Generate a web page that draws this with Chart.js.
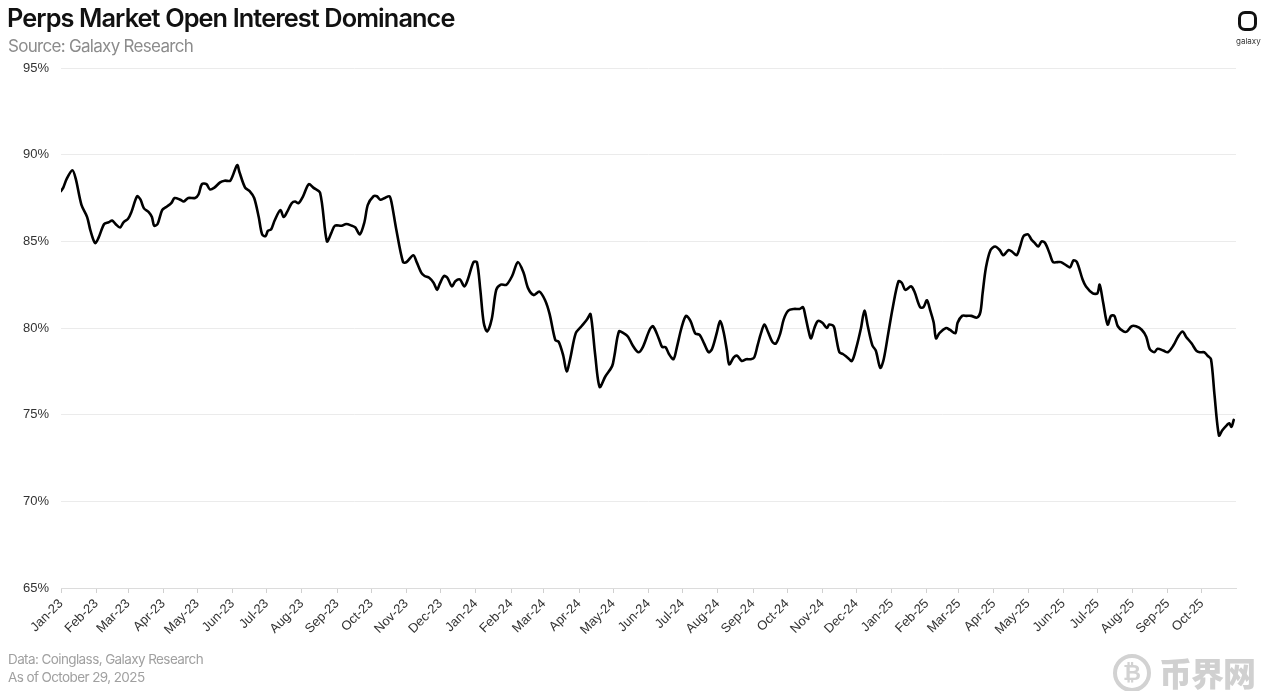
<!DOCTYPE html>
<html>
<head>
<meta charset="utf-8">
<script src="https://cdn.jsdelivr.net/npm/chart.js@4.4.1/dist/chart.umd.min.js"></script>
<style>
  html, body { margin: 0; padding: 0; background: #fff; }
  body { width: 1271px; height: 691px; position: relative; overflow: hidden; }
  #c { position: absolute; left: 0; top: 0; }
  .t { position: absolute; white-space: nowrap; font-family: Inter, "Noto Sans", sans-serif; }
  #title { left: 7px; top: 4px; font-size: 25.3px; line-height: 28px; font-weight: 600; color: #111; letter-spacing: -0.9px; }
  #sub { left: 8px; top: 35px; font-size: 17px; line-height: 22px; color: #8c8c8c; letter-spacing: -0.7px; }
  #f1 { left: 8px; top: 650px; font-size: 13.5px; line-height: 18px; color: #a0a0a0; letter-spacing: -0.6px; }
  #f2 { left: 8px; top: 668px; font-size: 13.5px; line-height: 18px; color: #a0a0a0; letter-spacing: -0.6px; }
  #logo { position: absolute; left: 1238px; top: 11px; width: 13px; height: 14px; border: 3.5px solid #111; border-radius: 7px; }
  #logotxt { left: 1236px; top: 36px; font-size: 8px; line-height: 10px; color: #333; }
  #wm { position: absolute; left: 1113px; top: 652px; width: 150px; height: 40px; }
  #wmc { position: absolute; left: 0; top: 2px; width: 30px; height: 30px; border: 4px solid #d2d2d2; border-radius: 50%; color: #d2d2d2; font: bold 22px/30px "DejaVu Sans", sans-serif; text-align: center; }
  #wmt { left: 46px; top: 0px; font-family: "Noto Sans CJK SC", sans-serif; font-weight: 900; font-size: 33px; line-height: 40px; color: #d0d0d0; letter-spacing: -1px; }
</style>
</head>
<body>
<canvas id="c" width="1271" height="691"></canvas>
<div class="t" id="title">Perps Market Open Interest Dominance</div>
<div class="t" id="sub">Source: Galaxy Research</div>
<div class="t" id="f1">Data: Coinglass, Galaxy Research</div>
<div class="t" id="f2">As of October 29, 2025</div>
<div id="logo"></div>
<div class="t" id="logotxt">galaxy</div>
<div id="wm"><div id="wmc">₿</div><div class="t" id="wmt">币界网</div></div>
<script>
// Days since 2023-01-01
const days = [0,2,5,10,13,18,23,26,30,33,38,42,45,48,52,55,59,62,67,70,73,77,80,82,85,89,93,97,100,105,108,112,118,121,124,128,131,135,140,144,149,155,157,162,166,170,174,177,180,182,185,188,193,196,199,203,206,209,213,218,222,228,234,238,241,247,251,256,259,263,267,270,275,278,281,285,289,291,295,301,304,310,313,317,320,324,328,331,333,337,340,344,347,351,355,358,363,366,369,372,375,379,383,387,392,397,402,407,411,416,421,426,430,435,438,442,445,448,453,458,463,466,470,474,479,485,487,491,495,499,503,508,512,518,521,526,529,532,535,539,542,546,550,554,558,562,566,570,573,577,580,583,586,588,592,595,599,603,607,610,613,616,619,622,626,629,633,636,640,645,650,653,655,658,660,663,666,670,674,676,680,682,685,688,692,696,700,704,707,710,714,717,721,724,728,732,737,740,743,748,751,756,759,762,765,768,770,773,779,782,787,789,793,797,801,806,809,811,814,818,822,826,829,831,834,837,841,844,847,851,854,857,860,863,866,870,873,877,880,885,888,891,894,899,902,908,912,914,917,921,924,927,930,935,938,942,946,951,955,958,962,965,970,974,979,983,987,990,995,999,1002,1006,1009,1012,1015,1019,1022,1026,1028,1030,1032];
// Perps open interest dominance (%)
const dominance = [87.9,88.1,88.6,89.1,88.6,87.1,86.4,85.6,84.9,85.2,86.0,86.1,86.2,86.0,85.8,86.1,86.3,86.7,87.6,87.4,86.9,86.7,86.4,85.9,86.0,86.8,87.0,87.2,87.5,87.4,87.3,87.5,87.5,87.7,88.3,88.3,88.0,88.1,88.4,88.5,88.5,89.4,89.0,88.1,87.9,87.5,86.4,85.4,85.3,85.6,85.7,86.2,86.8,86.4,86.7,87.2,87.3,87.2,87.6,88.3,88.1,87.8,85.0,85.5,85.9,85.9,86.0,85.9,85.8,85.4,86.1,87.1,87.6,87.6,87.4,87.5,87.6,87.2,85.7,83.8,83.8,84.2,83.8,83.2,83.0,82.9,82.6,82.2,82.5,83.0,82.9,82.4,82.7,82.8,82.4,82.8,83.8,83.8,82.2,80.3,79.8,80.5,82.2,82.5,82.5,83.0,83.8,83.2,82.3,81.9,82.1,81.6,80.8,79.3,79.2,78.4,77.5,78.2,79.7,80.1,80.5,80.8,78.5,76.6,77.2,77.8,78.4,79.8,79.7,79.5,79.0,78.6,78.9,79.9,80.1,79.4,78.9,78.9,78.5,78.2,78.9,80.0,80.7,80.4,79.7,79.6,79.1,78.6,78.8,79.7,80.4,79.8,78.7,77.9,78.3,78.4,78.1,78.2,78.2,78.3,79.0,79.7,80.2,79.8,79.2,79.1,79.7,80.5,81.0,81.1,81.1,81.2,80.7,79.8,79.4,80.0,80.4,80.3,80.0,80.2,80.1,79.5,78.6,78.5,78.3,78.1,78.9,80.0,81.0,80.1,79.0,78.7,77.7,78.2,79.7,81.2,82.7,82.6,82.2,82.4,82.1,81.2,81.2,81.6,81.0,80.3,79.4,79.7,80.0,79.9,79.7,80.3,80.7,80.7,80.7,80.6,80.9,82.0,83.5,84.5,84.7,84.5,84.2,84.3,84.5,84.4,84.2,84.7,85.3,85.4,85.1,84.9,84.7,85.0,84.9,84.3,83.8,83.8,83.8,83.6,83.5,83.9,83.8,82.8,82.4,82.0,82.0,82.5,81.5,80.2,80.7,80.7,80.1,79.8,79.8,80.1,80.1,79.9,79.5,78.8,78.6,78.8,78.7,78.6,79.0,79.5,79.8,79.5,79.1,78.7,78.6,78.6,78.4,78.2,76.2,73.8,74.1,74.4,74.5,74.3,74.7];
const monthLabels = ['Jan-23','Feb-23','Mar-23','Apr-23','May-23','Jun-23','Jul-23','Aug-23','Sep-23','Oct-23','Nov-23','Dec-23','Jan-24','Feb-24','Mar-24','Apr-24','May-24','Jun-24','Jul-24','Aug-24','Sep-24','Oct-24','Nov-24','Dec-24','Jan-25','Feb-25','Mar-25','Apr-25','May-25','Jun-25','Jul-25','Aug-25','Sep-25','Oct-25'];
const yTicks = [65,70,75,80,85,90,95];

const base = Date.UTC(2023,0,1);
const monthDays = monthLabels.map((_, i) => Math.round((Date.UTC(2023, i, 1) - base) / 86400000));
const labelByDay = {};
monthDays.forEach((d, i) => { labelByDay[d] = monthLabels[i]; });

const points = days.map((d, i) => ({ x: d, y: dominance[i] }));

new Chart(document.getElementById('c'), {
  type: 'line',
  data: { datasets: [{ data: points, borderColor: '#000', borderWidth: 2.6, pointRadius: 0, tension: 0.3, fill: false, borderJoinStyle: 'round', borderCapStyle: 'round' }] },
  options: {
    responsive: false, animation: false, events: [],
    layout: { padding: { left: 0, right: 35, top: 68, bottom: 0 } },
    plugins: { legend: { display: false }, tooltip: { enabled: false } },
    scales: {
      x: {
        type: 'linear', min: 0, max: 1034,
        afterBuildTicks: s => { s.ticks = monthDays.map(v => ({ value: v })); },
        afterFit: s => { s.height = 103; },
        ticks: { autoSkip: false, minRotation: 45, maxRotation: 45, color: '#333', padding: 3,
          font: { family: 'Liberation Sans, Arial, sans-serif', size: 13 },
          callback: v => labelByDay[v] || '' },
        grid: { drawOnChartArea: false, drawTicks: true, tickLength: 5, color: '#d0d0d0' },
        border: { display: true, color: '#dcdcdc', width: 1 }
      },
      y: {
        min: 65, max: 95,
        afterBuildTicks: s => { s.ticks = yTicks.map(v => ({ value: v })); },
        afterFit: s => { s.width = 61; },
        ticks: { color: '#333', padding: 12, font: { family: 'Liberation Sans, Arial, sans-serif', size: 13 },
          callback: v => v + '%' },
        grid: { color: '#ebebeb', lineWidth: 1, drawTicks: false },
        border: { display: false }
      }
    }
  }
});
</script>
</body>
</html>
